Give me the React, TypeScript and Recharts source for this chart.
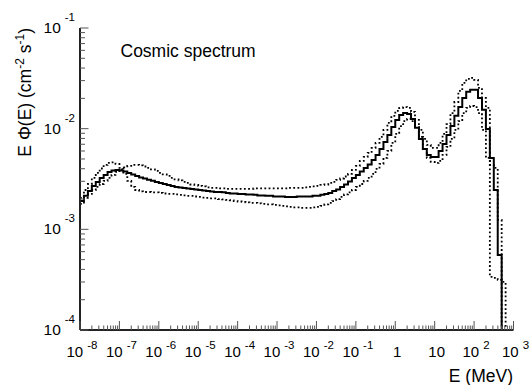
import { LineChart, Line, XAxis, YAxis } from 'recharts'

// log10(E / MeV) at the bin edges, 10 bins per decade
const binEdges = [
  -8.0, -7.9, -7.8, -7.7, -7.6, -7.5, -7.4, -7.3, -7.2, -7.1,
  -7.0, -6.9, -6.8, -6.7, -6.6, -6.5, -6.4, -6.3, -6.2, -6.1,
  -6.0, -5.9, -5.8, -5.7, -5.6, -5.5, -5.4, -5.3, -5.2, -5.1,
  -5.0, -4.9, -4.8, -4.7, -4.6, -4.5, -4.4, -4.3, -4.2, -4.1,
  -4.0, -3.9, -3.8, -3.7, -3.6, -3.5, -3.4, -3.3, -3.2, -3.1,
  -3.0, -2.9, -2.8, -2.7, -2.6, -2.5, -2.4, -2.3, -2.2, -2.1,
  -2.0, -1.9, -1.8, -1.7, -1.6, -1.5, -1.4, -1.3, -1.2, -1.1,
  -1.0, -0.9, -0.8, -0.7, -0.6, -0.5, -0.4, -0.3, -0.2, -0.1,
  0.0, 0.1, 0.2, 0.3, 0.4, 0.5, 0.6, 0.7, 0.8, 0.9,
  1.0, 1.1, 1.2, 1.3, 1.4, 1.5, 1.6, 1.7, 1.8, 1.9,
  2.0, 2.1, 2.2, 2.3, 2.4, 2.5, 2.6, 2.7, 2.8, 2.9,
  3.0,
]

// E Phi(E), cm^-2 s^-1, one value per bin (1e-5 = empty bin, below the frame)
const spectrum = [
  1.91e-3, 2.15e-3, 2.41e-3, 2.70e-3, 2.96e-3, 3.24e-3, 3.47e-3, 3.72e-3, 3.85e-3, 3.89e-3,
  3.85e-3, 3.76e-3, 3.63e-3, 3.51e-3, 3.39e-3, 3.28e-3, 3.20e-3, 3.10e-3, 3.03e-3, 2.96e-3,
  2.89e-3, 2.82e-3, 2.76e-3, 2.70e-3, 2.64e-3, 2.61e-3, 2.58e-3, 2.55e-3, 2.52e-3, 2.49e-3,
  2.46e-3, 2.43e-3, 2.41e-3, 2.38e-3, 2.35e-3, 2.35e-3, 2.33e-3, 2.30e-3, 2.27e-3, 2.27e-3,
  2.25e-3, 2.25e-3, 2.22e-3, 2.22e-3, 2.20e-3, 2.17e-3, 2.17e-3, 2.15e-3, 2.15e-3, 2.12e-3,
  2.12e-3, 2.12e-3, 2.10e-3, 2.10e-3, 2.10e-3, 2.12e-3, 2.12e-3, 2.12e-3, 2.12e-3, 2.15e-3,
  2.15e-3, 2.20e-3, 2.25e-3, 2.30e-3, 2.41e-3, 2.49e-3, 2.64e-3, 2.79e-3, 2.99e-3, 3.24e-3,
  3.47e-3, 3.76e-3, 4.07e-3, 4.41e-3, 4.89e-3, 5.48e-3, 6.29e-3, 7.38e-3, 8.66e-3, 1.04e-2,
  1.22e-2, 1.37e-2, 1.43e-2, 1.40e-2, 1.25e-2, 1.02e-2, 7.91e-3, 6.29e-3, 5.48e-3, 5.24e-3,
  5.24e-3, 6.01e-3, 7.05e-3, 8.66e-3, 1.06e-2, 1.34e-2, 1.64e-2, 2.02e-2, 2.32e-2, 2.43e-2,
  2.43e-2, 2.02e-2, 1.54e-2, 9.94e-3, 5.12e-3, 2.46e-3, 5.57e-4, 1e-5, 1e-5, 1e-5,
]

// dotted variant peaking early at thermal energies
const spectrumA = [
  2.05e-3, 2.46e-3, 2.82e-3, 3.24e-3, 3.63e-3, 4.02e-3, 4.36e-3, 4.57e-3, 4.62e-3, 4.46e-3,
  4.07e-3, 3.55e-3, 3.03e-3, 2.64e-3, 2.46e-3, 2.38e-3, 2.35e-3, 2.35e-3, 2.33e-3, 2.33e-3,
  2.30e-3, 2.27e-3, 2.25e-3, 2.25e-3, 2.22e-3, 2.20e-3, 2.17e-3, 2.15e-3, 2.15e-3, 2.12e-3,
  2.10e-3, 2.07e-3, 2.05e-3, 2.03e-3, 2.03e-3, 2.00e-3, 1.98e-3, 1.96e-3, 1.94e-3, 1.91e-3,
  1.89e-3, 1.87e-3, 1.85e-3, 1.83e-3, 1.83e-3, 1.81e-3, 1.79e-3, 1.77e-3, 1.77e-3, 1.75e-3,
  1.73e-3, 1.71e-3, 1.69e-3, 1.67e-3, 1.65e-3, 1.65e-3, 1.63e-3, 1.63e-3, 1.63e-3, 1.65e-3,
  1.67e-3, 1.71e-3, 1.77e-3, 1.83e-3, 1.91e-3, 2.00e-3, 2.10e-3, 2.22e-3, 2.33e-3, 2.46e-3,
  2.64e-3, 2.82e-3, 3.03e-3, 3.24e-3, 3.55e-3, 3.98e-3, 4.46e-3, 5.12e-3, 6.01e-3, 7.22e-3,
  8.86e-3, 1.06e-2, 1.19e-2, 1.25e-2, 1.19e-2, 1.04e-2, 8.28e-3, 6.29e-3, 5.12e-3, 4.67e-3,
  4.57e-3, 4.78e-3, 5.48e-3, 6.58e-3, 7.91e-3, 9.71e-3, 1.19e-2, 1.43e-2, 1.61e-2, 1.68e-2,
  1.64e-2, 1.43e-2, 9.71e-3, 5.12e-3, 3.37e-4, 3.30e-4, 3.15e-4, 3.01e-4, 1e-5, 1e-5,
]

// dotted variant peaking later, higher at the MeV peaks
const spectrumB = [
  1.79e-3, 2.05e-3, 2.25e-3, 2.46e-3, 2.64e-3, 2.82e-3, 3.03e-3, 3.24e-3, 3.47e-3, 3.72e-3,
  3.94e-3, 4.12e-3, 4.26e-3, 4.36e-3, 4.36e-3, 4.31e-3, 4.21e-3, 4.07e-3, 3.94e-3, 3.80e-3,
  3.63e-3, 3.51e-3, 3.39e-3, 3.24e-3, 3.13e-3, 3.06e-3, 2.96e-3, 2.89e-3, 2.79e-3, 2.76e-3,
  2.70e-3, 2.67e-3, 2.61e-3, 2.58e-3, 2.58e-3, 2.55e-3, 2.55e-3, 2.52e-3, 2.52e-3, 2.52e-3,
  2.52e-3, 2.52e-3, 2.52e-3, 2.52e-3, 2.55e-3, 2.55e-3, 2.55e-3, 2.55e-3, 2.55e-3, 2.55e-3,
  2.55e-3, 2.55e-3, 2.55e-3, 2.58e-3, 2.58e-3, 2.58e-3, 2.58e-3, 2.61e-3, 2.64e-3, 2.67e-3,
  2.70e-3, 2.76e-3, 2.79e-3, 2.89e-3, 2.96e-3, 3.10e-3, 3.20e-3, 3.35e-3, 3.55e-3, 3.89e-3,
  4.26e-3, 4.78e-3, 5.24e-3, 5.74e-3, 6.44e-3, 7.22e-3, 8.28e-3, 9.71e-3, 1.14e-2, 1.34e-2,
  1.50e-2, 1.61e-2, 1.64e-2, 1.61e-2, 1.47e-2, 1.22e-2, 9.71e-3, 7.91e-3, 6.89e-3, 6.44e-3,
  6.44e-3, 7.22e-3, 8.86e-3, 1.11e-2, 1.43e-2, 1.84e-2, 2.37e-2, 2.85e-2, 3.12e-2, 3.19e-2,
  3.05e-2, 2.54e-2, 2.02e-2, 1.61e-2, 4.36e-3, 4.07e-3, 1.24e-3, 1e-5, 1e-5, 1e-5,
]

const xDecades = [-8, -7, -6, -5, -4, -3, -2, -1, 0, 1, 2, 3]
const yDecades = [-4, -3, -2, -1]

const FONT = '"Liberation Sans", Arial, Helvetica, sans-serif'
const TICK = '#555'

// each edge carries the content of the bin to its right; last edge closes the last bin
const rows = binEdges.map((e, i) => {
  const k = Math.min(i, spectrum.length - 1)
  return { x: e, main: spectrum[k], a: spectrumA[k], b: spectrumB[k] }
})

const xTicks: number[] = []
xDecades.forEach((d) => {
  xTicks.push(d)
  if (d < 3) for (let m = 2; m <= 9; m++) xTicks.push(d + Math.log10(m))
})
const yTicks: number[] = []
yDecades.forEach((d) => {
  yTicks.push(Math.pow(10, d))
  if (d < -1) for (let m = 2; m <= 9; m++) yTicks.push(m * Math.pow(10, d))
})

const isInt = (v: number) => Math.abs(v - Math.round(v)) < 1e-6

function BottomTick(p: any) {
  const { x, y, payload } = p
  const v = payload.value
  const major = isInt(v)
  const e = Math.round(v)
  return (
    <g>
      <line x1={x} x2={x} y1={y} y2={y - (major ? 9 : 4.5)} stroke={TICK} strokeWidth={1} />
      {major && (
        <text x={x + 2} y={y + 27} textAnchor="middle" fontSize={15} fontFamily={FONT} fill="#000">
          {e === 0 ? '1' : e === 1 ? '10' : (
            <>
              10
              <tspan dx={4} dy={-8.5} fontSize={11.5}>{e}</tspan>
            </>
          )}
        </text>
      )}
    </g>
  )
}

function TopTick(p: any) {
  const { x, y, payload } = p
  const major = isInt(payload.value)
  return <line x1={x} x2={x} y1={y} y2={y + (major ? 6 : 3.5)} stroke={TICK} strokeWidth={1} />
}

function LeftTick(p: any) {
  const { x, y, payload } = p
  const lg = Math.log10(payload.value)
  const major = isInt(lg)
  return (
    <g>
      <line x1={x} x2={x + (major ? 8.5 : 5)} y1={y} y2={y} stroke={TICK} strokeWidth={1} />
      {major && (
        <text x={x - 5} y={y + 5} textAnchor="end" fontSize={15.5} fontFamily={FONT} fill="#000">
          10
          <tspan dx={4} dy={-12} fontSize={11.5}>{Math.round(lg)}</tspan>
        </text>
      )}
    </g>
  )
}

function RightTick(p: any) {
  const { x, y, payload } = p
  const major = isInt(Math.log10(payload.value))
  return <line x1={x} x2={x - (major ? 8.5 : 5)} y1={y} y2={y} stroke={TICK} strokeWidth={1} />
}

const frame = { stroke: '#222', strokeWidth: 2 }

export default function App() {
  return (
    <div style={{ position: 'absolute', left: 0, top: 0, width: 531, height: 385, background: '#fff' }}>
      <LineChart width={531} height={385} data={rows} margin={{ top: 28, right: 17.5, left: 0, bottom: 0 }}>
        <XAxis xAxisId="b" dataKey="x" type="number" domain={[-8, 3]} allowDataOverflow
          ticks={xTicks} interval={0} height={55} tickSize={0} tickMargin={0}
          axisLine={frame} tickLine={false} tick={(p: any) => <BottomTick {...p} />} />
        <XAxis xAxisId="t" orientation="top" dataKey="x" type="number" domain={[-8, 3]} allowDataOverflow
          ticks={xTicks} interval={0} height={0} tickSize={0} tickMargin={0}
          axisLine={frame} tickLine={false} tick={(p: any) => <TopTick {...p} />} />
        <YAxis yAxisId="l" type="number" scale="log" domain={[1e-4, 1e-1]} allowDataOverflow
          ticks={yTicks} interval={0} width={80} tickSize={0} tickMargin={0}
          axisLine={frame} tickLine={false} tick={(p: any) => <LeftTick {...p} />} />
        <YAxis yAxisId="r" orientation="right" type="number" scale="log" domain={[1e-4, 1e-1]} allowDataOverflow
          ticks={yTicks} interval={0} width={0} tickSize={0} tickMargin={0}
          axisLine={frame} tickLine={false} tick={(p: any) => <RightTick {...p} />} />

        <Line xAxisId="b" yAxisId="l" type="stepAfter" dataKey="a" stroke="#000" strokeWidth={1.8}
          strokeDasharray="1.8 2.4" dot={false} isAnimationActive={false} />
        <Line xAxisId="b" yAxisId="l" type="stepAfter" dataKey="b" stroke="#000" strokeWidth={1.8}
          strokeDasharray="1.8 2.4" dot={false} isAnimationActive={false} />
        <Line xAxisId="b" yAxisId="l" type="stepAfter" dataKey="main" stroke="#000" strokeWidth={2}
          dot={false} isAnimationActive={false} />
      </LineChart>

      <svg width={531} height={385} style={{ position: 'absolute', left: 0, top: 0, pointerEvents: 'none' }}>
        <text x={120.5} y={57} fontSize={17.5} fontFamily={FONT} fill="#000">Cosmic spectrum</text>
        <text x={513} y={382} textAnchor="end" fontSize={17.5} fontFamily={FONT} fill="#000">E (MeV)</text>
        <text x={31} y={28} transform="rotate(-90 31 28)" textAnchor="end" fontSize={17.5} fontFamily={FONT} fill="#000">
          E Φ(E) (cm
          <tspan dy={-7} fontSize={12}>-2</tspan>
          <tspan dy={7}> s</tspan>
          <tspan dy={-7} fontSize={12}>-1</tspan>
          <tspan dy={7}>)</tspan>
        </text>
      </svg>
    </div>
  )
}
